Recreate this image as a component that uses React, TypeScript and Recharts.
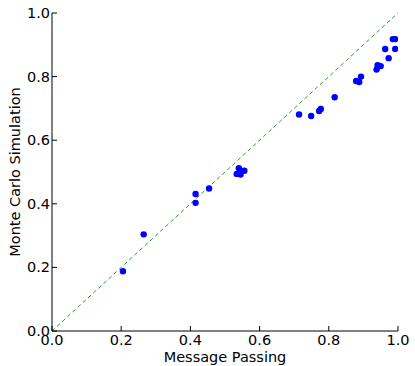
import {
  ReferenceLine,
  Scatter,
  ScatterChart,
  XAxis,
  YAxis,
} from 'recharts';

const messagePassing = [
  0.205, 0.265, 0.415, 0.415, 0.454, 0.534, 0.54, 0.545, 0.55, 0.556, 0.714, 0.749, 0.772,
  0.777, 0.817, 0.879, 0.888, 0.893, 0.938, 0.941, 0.95, 0.963, 0.973, 0.985, 0.992, 0.992,
];
const monteCarlo = [
  0.188, 0.304, 0.431, 0.403, 0.448, 0.494, 0.512, 0.492, 0.503, 0.504, 0.681, 0.676, 0.692,
  0.698, 0.735, 0.786, 0.783, 0.8, 0.822, 0.836, 0.833, 0.887, 0.858, 0.918, 0.918, 0.887,
];
const tickValues = [0, 0.2, 0.4, 0.6, 0.8, 1.0];

const points = messagePassing.map((x, i) => ({ x, y: monteCarlo[i] }));

const FONT = 'DejaVu Sans, sans-serif';
const FONT_SIZE = 14.5;

const BottomTick = ({ x, y, payload }: any) => (
  <g>
    <line x1={x} x2={x} y1={y} y2={y - 5} stroke="#000" strokeWidth={1} />
    <text x={x} y={y + 14} textAnchor="middle" fill="#000" fontFamily={FONT} fontSize={FONT_SIZE}>
      {payload.value.toFixed(1)}
    </text>
  </g>
);

const LeftTick = ({ x, y, payload }: any) => (
  <g>
    <line x1={x} x2={x + 5} y1={y} y2={y} stroke="#000" strokeWidth={1} />
    <text x={x - 2} y={y + 5} textAnchor="end" fill="#000" fontFamily={FONT} fontSize={FONT_SIZE}>
      {payload.value.toFixed(1)}
    </text>
  </g>
);

const TopTick = ({ x, y }: any) => (
  <line x1={x} x2={x} y1={y} y2={y + 5} stroke="#000" strokeWidth={1} />
);

const RightTick = ({ x, y }: any) => (
  <line x1={x} x2={x - 5} y1={y} y2={y} stroke="#000" strokeWidth={1} />
);

const Dot = ({ cx, cy }: any) => <circle cx={cx} cy={cy} r={3.2} fill="#0000ff" />;

const App = () => {
  return (
    <div style={{ position: 'absolute', left: 0, top: 0, background: '#fff' }}>
      <ScatterChart width={415} height={366} margin={{ top: 13, right: 17, left: 0, bottom: 0 }}>
        <XAxis
          type="number"
          dataKey="x"
          domain={[0, 1]}
          ticks={tickValues}
          height={35}
          tickSize={0}
          tickMargin={0}
          tick={<BottomTick />}
          axisLine={{ stroke: '#000', strokeWidth: 1 }}
          allowDataOverflow
          label={() => (
            <text x={225} y={362} textAnchor="middle" fill="#000" fontFamily={FONT} fontSize={FONT_SIZE}>
              Message Passing
            </text>
          )}
        />
        <XAxis
          xAxisId="top"
          orientation="top"
          type="number"
          domain={[0, 1]}
          ticks={tickValues}
          height={0}
          tickSize={0}
          tickMargin={0}
          tick={<TopTick />}
          axisLine={{ stroke: '#000', strokeWidth: 1 }}
        />
        <YAxis
          type="number"
          dataKey="y"
          domain={[0, 1]}
          ticks={tickValues}
          width={52}
          tickSize={0}
          tickMargin={0}
          tick={<LeftTick />}
          axisLine={{ stroke: '#000', strokeWidth: 1 }}
          allowDataOverflow
          label={() => (
            <text
              x={15}
              y={172}
              textAnchor="middle"
              dominantBaseline="central"
              transform="rotate(-90 15 172)"
              fill="#000"
              fontFamily={FONT}
              fontSize={FONT_SIZE}
            >
              Monte Carlo Simulation
            </text>
          )}
        />
        <YAxis
          yAxisId="right"
          orientation="right"
          type="number"
          domain={[0, 1]}
          ticks={tickValues}
          width={0}
          tickSize={0}
          tickMargin={0}
          tick={<RightTick />}
          axisLine={{ stroke: '#000', strokeWidth: 1 }}
        />
        <ReferenceLine
          segment={[{ x: 0, y: 0 }, { x: 1, y: 1 }]}
          stroke="#2ca02c"
          strokeWidth={1}
          strokeDasharray="4 3"
          ifOverflow="visible"
        />
        <Scatter data={points} fill="#0000ff" shape={<Dot />} isAnimationActive={false} />
      </ScatterChart>
    </div>
  );
};

export default App;
